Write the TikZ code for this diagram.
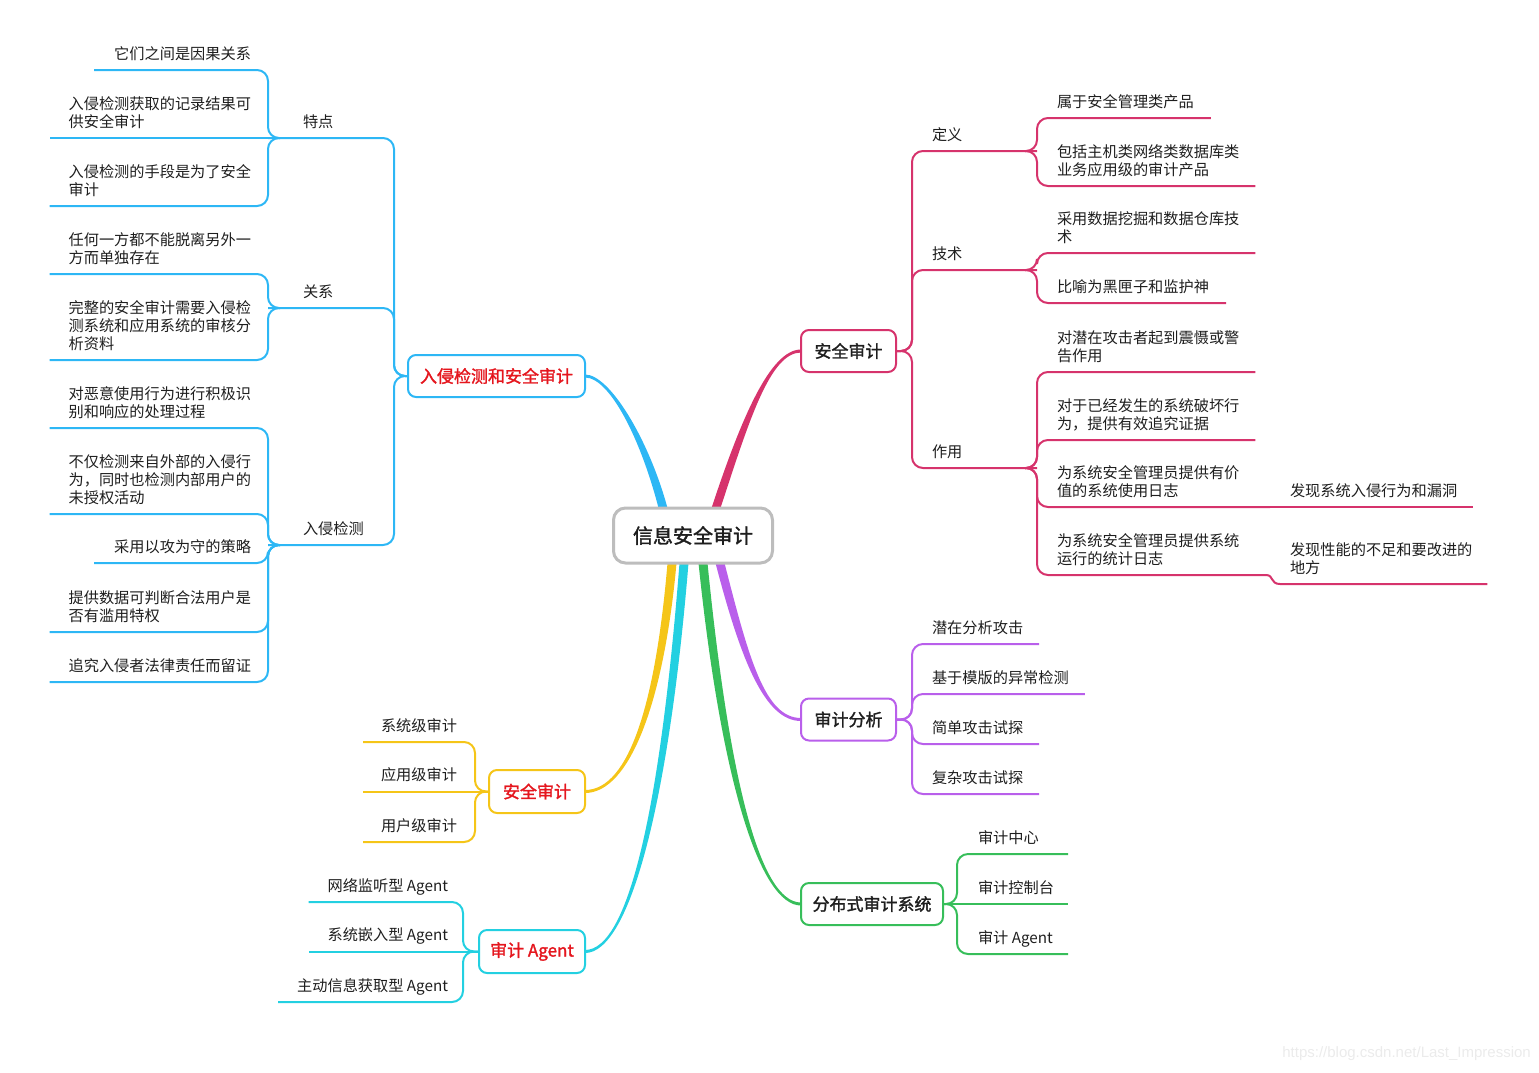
\documentclass[tikz,border=0pt]{standalone}
\usepackage{fontspec}
\setmainfont{Noto Sans CJK SC}
\newfontfamily\semib[FakeBold=1.6]{Noto Sans CJK SC}
\newfontfamily\wmfont{Liberation Sans}
\usetikzlibrary{calc}
\definecolor{cblue}{HTML}{2DB7F5}
\definecolor{ccrim}{HTML}{D6336C}
\definecolor{cpurp}{HTML}{B95FEB}
\definecolor{cgreen}{HTML}{37BE5A}
\definecolor{cyell}{HTML}{F5C518}
\definecolor{ccyan}{HTML}{23D0E1}
\definecolor{cgray}{HTML}{BDBDBD}
\definecolor{cred}{HTML}{E5161E}
\definecolor{tcol}{HTML}{1E1E1E}
\definecolor{wmcol}{HTML}{EBEBEB}
\pgfdeclarelayer{bg}
\pgfsetlayers{bg,main}
\tikzset{
  leaf/.style={inner sep=0pt, outer sep=0pt, text depth=11pt, align=left,
    font=\fontsize{15.2}{18}\selectfont, text=tcol},
  leafL/.style={leaf, anchor=south east},
  leafR/.style={leaf, anchor=south west},
  topic/.style={draw, line width=2pt, rounded corners=8pt, fill=white,
    inner sep=0pt, minimum height=42pt, text=tcol,
    font=\semib\fontsize{17}{20}\selectfont},
  conn/.style={line width=2pt, rounded corners=11pt},
}
\begin{document}
\begin{tikzpicture}[x=1pt,y=-1pt]
\useasboundingbox (0,0) rectangle (1539,1072);

% ---------- main and topic nodes ----------
\node[topic, draw=cgray, line width=3pt, rounded corners=12pt, minimum width=159pt,
  minimum height=55pt, font=\semib\fontsize{20}{24}\selectfont] (M) at (693,535.5) {信息安全审计};
\node[topic, draw=cblue, minimum width=177pt, text=cred] (T1) at (496.5,376) {入侵检测和安全审计};
\node[topic, draw=ccrim, minimum width=95pt] (T2) at (848.5,351) {安全审计};
\node[topic, draw=cpurp, minimum width=95pt] (T3) at (848.5,719.5) {审计分析};
\node[topic, draw=cgreen, minimum width=142pt] (T4) at (872,904) {分布式审计系统};
\node[topic, draw=cyell, minimum width=96pt, minimum height=43pt, text=cred] (T5) at (537,791.5) {安全审计};
\node[topic, draw=ccyan, minimum width=106pt, minimum height=43pt, text=cred] (T6) at (532,951.5) {审计 Agent};

% ---------- blue group ----------
\node[leafR] (S1) at (303,138) {特点};
\node[leafR] (S2) at (303,308) {关系};
\node[leafR] (S3) at (303,545) {入侵检测};
\coordinate (J1) at (268,138);
\coordinate (J2) at (268,308);
\coordinate (J3) at (268,545);
\node[leafL] (A1) at (251,70) {它们之间是因果关系};
\node[leafL] (A2) at (251,138) {入侵检测获取的记录结果可\\供安全审计};
\node[leafL] (A3) at (251,206) {入侵检测的手段是为了安全\\审计};
\node[leafL] (B1) at (251,274) {任何一方都不能脱离另外一\\方而单独存在};
\node[leafL] (B2) at (251,360) {完整的安全审计需要入侵检\\测系统和应用系统的审核分\\析资料};
\node[leafL] (C1) at (251,428) {对恶意使用行为进行积极识\\别和响应的处理过程};
\node[leafL] (C2) at (251,514) {不仅检测来自外部的入侵行\\为，同时也检测内部用户的\\未授权活动};
\node[leafL] (C3) at (251,563) {采用以攻为守的策略};
\node[leafL] (C4) at (251,632) {提供数据可判断合法用户是\\否有滥用特权};
\node[leafL] (C5) at (251,682) {追究入侵者法律责任而留证};

% ---------- crimson group ----------
\node[leafR] (R1) at (932,151) {定义};
\node[leafR] (R2) at (932,270) {技术};
\node[leafR] (R3) at (932,468) {作用};
\coordinate (K1) at (1037,151);
\coordinate (K2) at (1037,270);
\coordinate (K3) at (1037,468);
\node[leafR] (D1) at (1057,118) {属于安全管理类产品};
\node[leafR] (D2) at (1057,186) {包括主机类网络类数据库类\\业务应用级的审计产品};
\node[leafR] (E1) at (1057,253) {采用数据挖掘和数据仓库技\\术};
\node[leafR] (E2) at (1057,303) {比喻为黑匣子和监护神};
\node[leafR] (F1) at (1057,372) {对潜在攻击者起到震慑或警\\告作用};
\node[leafR] (F2) at (1057,440) {对于已经发生的系统破坏行\\为，提供有效追究证据};
\node[leafR] (F3) at (1057,507) {为系统安全管理员提供有价\\值的系统使用日志};
\node[leafR] (F4) at (1057,575) {为系统安全管理员提供系统\\运行的统计日志};
\coordinate (X1) at (1270,507);
\coordinate (X2) at (1266,575);
\node[leafR] (G1) at (1290,507) {发现系统入侵行为和漏洞};
\node[leafR] (G2) at (1290,584) {发现性能的不足和要改进的\\地方};

% ---------- purple group ----------
\node[leafR] (P1) at (932,644) {潜在分析攻击};
\node[leafR] (P2) at (932,694) {基于模版的异常检测};
\node[leafR] (P3) at (932,744) {简单攻击试探};
\node[leafR] (P4) at (932,794) {复杂攻击试探};

% ---------- green group ----------
\node[leafR] (Q1) at (978,854) {审计中心};
\node[leafR] (Q2) at (978,904) {审计控制台};
\node[leafR] (Q3) at (978,954) {审计 Agent};

% ---------- yellow group ----------
\node[leafL] (Y1) at (457,742) {系统级审计};
\node[leafL] (Y2) at (457,791.5) {应用级审计};
\node[leafL] (Y3) at (457,842) {用户级审计};

% ---------- cyan group ----------
\node[leafL] (N1) at (448,902) {网络监听型 Agent};
\node[leafL] (N2) at (448,951.5) {系统嵌入型 Agent};
\node[leafL] (N3) at (448,1002) {主动信息获取型 Agent};

% watermark
\node[anchor=east, inner sep=0pt, font=\wmfont\fontsize{15}{18}\selectfont, text=wmcol] (WM) at (1531,1054) {https://blog.csdn.net/Last\_Impression};

\begin{pgfonlayer}{bg}
% ---------- thick main branches ----------
\fill[cblue] (667.5,508) .. controls (649,440) and (610,374.5) .. (585,374.5) -- (585,377.5) .. controls (610,377.5) and (641,440) .. (658.5,508) -- cycle;
\fill[ccrim] (711.5,508) .. controls (741,419) and (770,349.5) .. (801,349.5) -- (801,352.5) .. controls (770,352.5) and (749,421) .. (720.5,508) -- cycle;
\fill[cpurp] (715.5,563) .. controls (741,661) and (765,721) .. (801,721) -- (801,718) .. controls (765,718) and (749,659) .. (724.5,563) -- cycle;
\fill[cgreen] (698.5,563) .. controls (721,781) and (760,905.5) .. (801,905.5) -- (801,902.5) .. controls (760,902.5) and (729,779) .. (707.5,563) -- cycle;
\fill[cyell] (676.5,563) .. controls (664,701) and (630,793) .. (585,793) -- (585,790) .. controls (630,790) and (656,699) .. (667.5,563) -- cycle;
\fill[ccyan] (688.5,563) .. controls (669,801) and (630,953) .. (585,953) -- (585,950) .. controls (630,950) and (661,799) .. (679.5,563) -- cycle;

% ---------- blue connectors ----------
\draw[conn, cblue] (T1.west) -- (394,376) |- (J1);
\draw[conn, cblue] (T1.west) -- (394,376) |- (J2);
\draw[conn, cblue] (T1.west) -- (394,376) |- (J3);
\draw[conn, cblue] ($(J1)+(12,0)$) -- (J1) |- ($(A1.south west)+(-20,0)$);
\draw[conn, cblue] (J1) -- ($(A2.south west)+(-19,0)$);
\draw[conn, cblue] ($(J1)+(12,0)$) -- (J1) |- ($(A3.south west)+(-19,0)$);
\draw[conn, cblue] ($(J2)+(12,0)$) -- (J2) |- ($(B1.south west)+(-19,0)$);
\draw[conn, cblue] ($(J2)+(12,0)$) -- (J2) |- ($(B2.south west)+(-19,0)$);
\draw[conn, cblue] ($(J3)+(12,0)$) -- (J3) |- ($(C1.south west)+(-19,0)$);
\draw[conn, cblue] ($(J3)+(12,0)$) -- (J3) |- ($(C2.south west)+(-19,0)$);
\draw[conn, cblue] ($(J3)+(12,0)$) -- (J3) |- ($(C3.south west)+(-20,0)$);
\draw[conn, cblue] ($(J3)+(12,0)$) -- (J3) |- ($(C4.south west)+(-19,0)$);
\draw[conn, cblue] ($(J3)+(12,0)$) -- (J3) |- ($(C5.south west)+(-19,0)$);

% ---------- crimson connectors ----------
\draw[conn, ccrim] (T2.east) -- (912,351) |- (K1);
\draw[conn, ccrim] (T2.east) -- (912,351) |- (K2);
\draw[conn, ccrim] (T2.east) -- (912,351) |- (K3);
\draw[conn, ccrim] ($(K1)+(-12,0)$) -- (K1) |- ($(D1.south east)+(17,0)$);
\draw[conn, ccrim] ($(K1)+(-12,0)$) -- (K1) |- ($(D2.south east)+(16,0)$);
\draw[conn, ccrim] ($(K2)+(-12,0)$) -- (K2) |- ($(E1.south east)+(16,0)$);
\draw[conn, ccrim] ($(K2)+(-12,0)$) -- (K2) |- ($(E2.south east)+(17,0)$);
\draw[conn, ccrim] ($(K3)+(-12,0)$) -- (K3) |- ($(F1.south east)+(16,0)$);
\draw[conn, ccrim] ($(K3)+(-12,0)$) -- (K3) |- ($(F2.south east)+(16,0)$);
\draw[conn, ccrim] ($(K3)+(-12,0)$) -- (K3) |- (X1);
\draw[conn, ccrim] ($(K3)+(-12,0)$) -- (K3) |- (X2);
\draw[line width=2pt, ccrim] (X1) -- ($(G1.south east)+(16,0)$);
\draw[line width=2pt, ccrim] (X2) .. controls (1274,575) and (1270,584) .. (1280,584) -- ($(G2.south east)+(15,0)$);

% ---------- purple connectors ----------
\draw[conn, cpurp] (T3.east) -- (912,719.5) |- ($(P1.south east)+(16,0)$);
\draw[conn, cpurp] (T3.east) -- (912,719.5) |- ($(P2.south east)+(16,0)$);
\draw[conn, cpurp] (T3.east) -- (912,719.5) |- ($(P3.south east)+(16,0)$);
\draw[conn, cpurp] (T3.east) -- (912,719.5) |- ($(P4.south east)+(16,0)$);

% ---------- green connectors ----------
\draw[conn, cgreen] (T4.east) -- (957,904) |- ($(Q1.south west)+(90,0)$);
\draw[conn, cgreen] (T4.east) -- ($(Q2.south west)+(90,0)$);
\draw[conn, cgreen] (T4.east) -- (957,904) |- ($(Q3.south west)+(90,0)$);

% ---------- yellow connectors ----------
\draw[conn, cyell] (T5.west) -- (475,791.5) |- ($(Y1.south west)+(-18,0)$);
\draw[conn, cyell] (T5.west) -- ($(Y2.south west)+(-18,0)$);
\draw[conn, cyell] (T5.west) -- (475,791.5) |- ($(Y3.south west)+(-18,0)$);

% ---------- cyan connectors ----------
\draw[conn, ccyan] (T6.west) -- (463,951.5) |- ($(N1.south west)+(-19,0)$);
\draw[conn, ccyan] (T6.west) -- ($(N2.south west)+(-19,0)$);
\draw[conn, ccyan] (T6.west) -- (463,951.5) |- ($(N3.south west)+(-19,0)$);
\end{pgfonlayer}
\end{tikzpicture}
\end{document}
